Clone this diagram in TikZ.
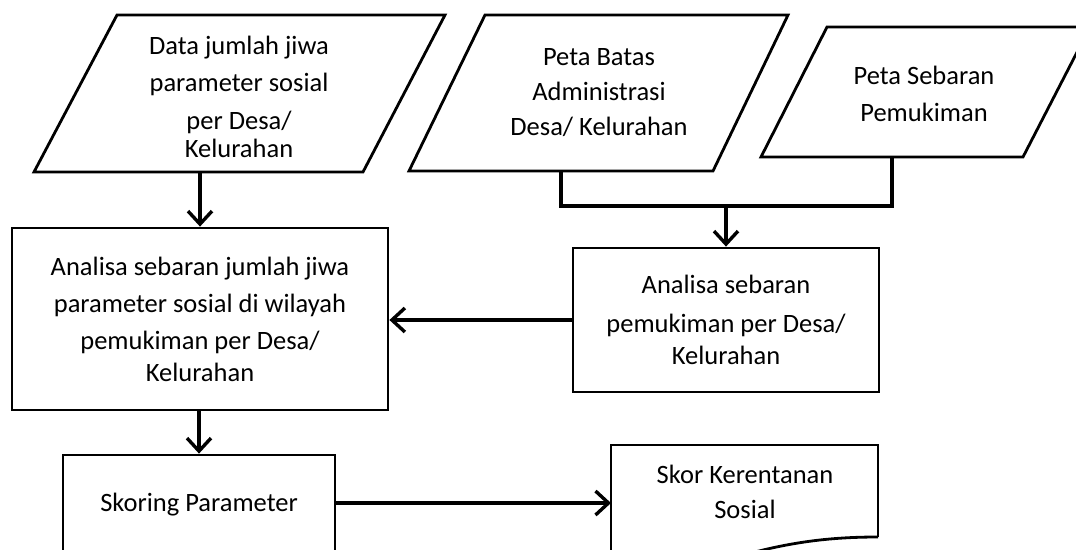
\documentclass[tikz,border=0pt]{standalone}
\usepackage{fontspec}
\setmainfont{Carlito}
\usetikzlibrary{arrows.meta}
\begin{document}
\begin{tikzpicture}[x=1pt,y=-1pt,
  outline/.style={line width=2.8pt, line join=miter},
  conn/.style={line width=3.4pt, -{Straight Barb[length=13pt,width=24pt,line width=3.4pt]}},
  link/.style={line width=3.4pt},
  lbl/.style={font=\fontsize{26.5}{37}\selectfont, align=center, inner sep=0pt},
  boxn/.style={draw, line width=2.8pt, inner sep=0pt, align=center, font=\fontsize{26.5}{37}\selectfont}
]
\useasboundingbox (0,0) rectangle (1076,549);
\clip (0,0) rectangle (1076,549);
\fill[white] (0,0) rectangle (1076,549);

% input parallelograms
\draw[outline] (117,15) -- (445,15) -- (363,172) -- (34,172) -- cycle;
\coordinate (p1b) at (200,172);
\node[lbl] (p1) at (239,97) {Data jumlah jiwa\\parameter sosial\\[1pt]per Desa/\\[-9pt]Kelurahan};

\draw[outline] (485,15) -- (788,15) -- (713,171) -- (409,171) -- cycle;
\coordinate (p2b) at (561,171);
\node[lbl, font=\fontsize{26.5}{35}\selectfont] (p2) at (599,93) {Peta Batas\\Administrasi\\Desa/ Kelurahan};

\draw[outline] (827,27) -- (1090,27) -- (1023,157) -- (761,157) -- cycle;
\coordinate (p3b) at (892,157);
\node[lbl] (p3) at (924,94) {Peta Sebaran\\Pemukiman};

% process boxes
\node[boxn, minimum width=376pt, minimum height=182pt] (b1) at (200,319)
  {Analisa sebaran jumlah jiwa\\parameter sosial di wilayah\\pemukiman per Desa/\\[-5pt]Kelurahan};
\node[boxn, minimum width=306pt, minimum height=144pt] (b2) at (726,320)
  {Analisa sebaran\\[2pt]pemukiman per Desa/\\[-5pt]Kelurahan};
\node[boxn, minimum width=272pt, minimum height=100pt] (sk) at (199,505) {Skoring Parameter};

% document
\draw[outline] (878,537) -- (878,445) -- (611,445) -- (611,600);
\draw[outline] (878,537) .. controls (830,537) and (790,542) .. (740,556);
\coordinate (docw) at (611,503);
\node[lbl, font=\fontsize{26.5}{35}\selectfont] (doc) at (745,492) {Skor Kerentanan\\Sosial};

% connectors
\coordinate (j1) at (561,206);
\coordinate (j2) at (892,206);
\coordinate (jm) at (726,206);
\draw[link, line join=miter] (p2b) -- (j1) -- (j2) -- (p3b);
\draw[conn] (jm) -- (b2.north);
\draw[conn] (p1b) -- (b1.north);
\draw[conn] (b2.west) -- (b1.east |- b2.west);
\draw[conn] (b1.south -| sk.north) -- (sk.north);
\draw[conn] (sk.east |- docw) -- (docw);
\end{tikzpicture}
\end{document}
